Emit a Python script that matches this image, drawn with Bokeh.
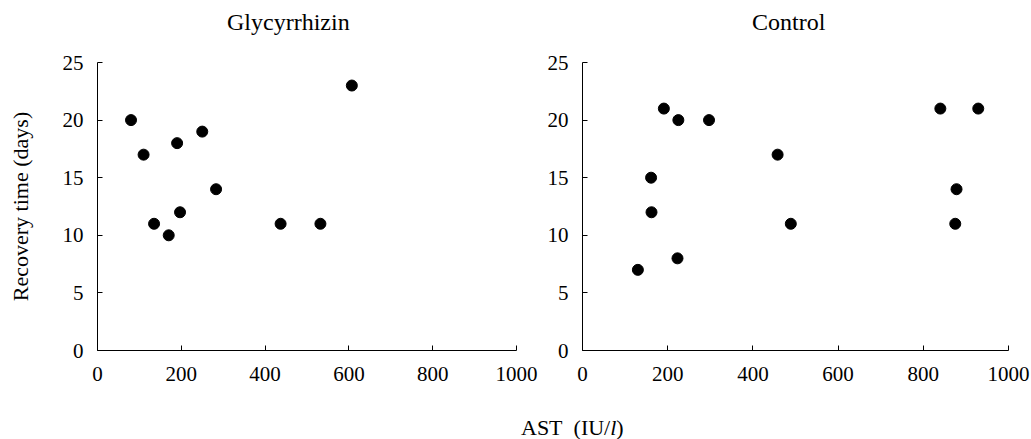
from bokeh.plotting import figure
from bokeh.models import Range1d, FixedTicker, Div
from bokeh.layouts import row, column
from bokeh.embed import file_html
from bokeh.resources import INLINE

# Data
glyc_ast = [80, 110, 135, 170, 190, 197, 250, 283, 437, 532, 607]
glyc_days = [20, 17, 11, 10, 18, 12, 19, 14, 11, 11, 23]
ctrl_ast = [130, 161, 162, 191, 225, 223, 297, 458, 489, 840, 929, 878, 875]
ctrl_days = [7, 15, 12, 21, 20, 8, 20, 17, 11, 21, 21, 14, 11]
x_ticks = [0, 200, 400, 600, 800, 1000]
y_ticks = [0, 5, 10, 15, 20, 25]
panel_titles = ["Glycyrrhizin", "Control"]

FONT = "Liberation Serif"


def make_panel(xs, ys, width, left, right, ylabel=None):
    p = figure(width=width, height=358, output_backend="svg", toolbar_location=None,
               x_range=Range1d(0, 1000), y_range=Range1d(0, 25),
               min_border_left=left, min_border_right=right,
               min_border_top=22, min_border_bottom=48)
    p.outline_line_color = None
    p.grid.visible = False
    p.background_fill_color = "white"
    p.border_fill_color = "white"
    p.xaxis.ticker = FixedTicker(ticks=x_ticks)
    p.yaxis.ticker = FixedTicker(ticks=y_ticks)
    for ax in (p.xaxis[0], p.yaxis[0]):
        ax.axis_line_color = "black"
        ax.axis_line_width = 1
        ax.major_tick_line_color = "black"
        ax.major_tick_in = 5
        ax.major_tick_out = 0
        ax.minor_tick_line_color = None
        ax.major_label_text_font = FONT
        ax.major_label_text_font_size = "21px"
        ax.major_label_text_color = "black"
    p.xaxis.major_label_standoff = 16
    p.yaxis.major_label_standoff = 14
    if ylabel:
        p.yaxis.axis_label = ylabel
        p.yaxis.axis_label_text_font = FONT
        p.yaxis.axis_label_text_font_size = "22px"
        p.yaxis.axis_label_text_font_style = "normal"
        p.yaxis.axis_label_text_color = "black"
        p.yaxis.axis_label_standoff = 27
    p.scatter(xs, ys, size=11, color="black")
    return p


def title_div(text, width, pad_left):
    return Div(width=width, height=40, margin=0,
               text=("<div style=\"font-family:'Liberation Serif'; font-size:24px; "
                     "line-height:28px; color:black; padding-top:8px; "
                     f"padding-left:{pad_left}px; white-space:nowrap;\">{text}</div>"))


p1 = make_panel(glyc_ast, glyc_days, 544, 97, 28, ylabel="Recovery time (days)")
p2 = make_panel(ctrl_ast, ctrl_days, 487, 38, 23)

t1 = title_div(panel_titles[0], 544, 227)
t2 = title_div(panel_titles[1], 487, 208)

xlabel = Div(width=1031, height=41, margin=0,
             text=("<div style=\"font-family:'Liberation Serif'; font-size:22px; color:black; "
                   "padding-left:521px; padding-top:14px; white-space:nowrap;\">"
                   "AST&ensp;(IU/<i>l</i>)</div>"))

layout = column(row(t1, t2), row(p1, p2), xlabel)

open("out.html", "w").write(file_html(layout, INLINE))
